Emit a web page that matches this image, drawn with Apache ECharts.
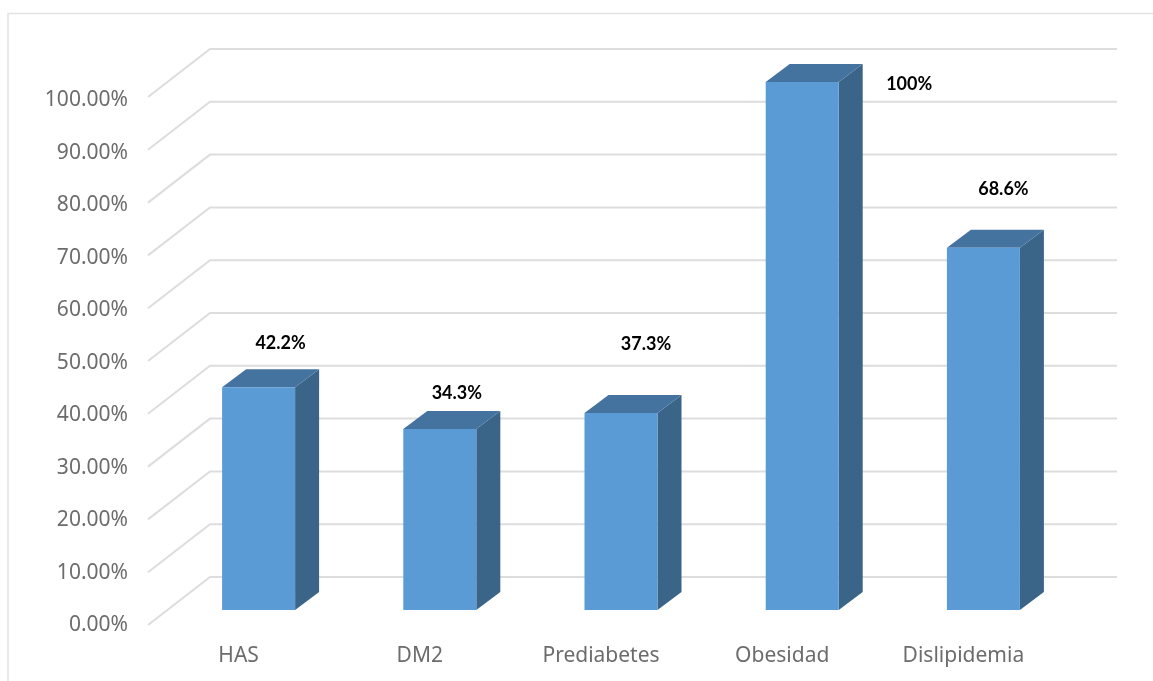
<!DOCTYPE html>
<html>
<head>
<meta charset="utf-8">
<style>html,body{margin:0;padding:0;background:#fff}#chart{width:1153px;height:681px}</style>
<script src="https://cdn.jsdelivr.net/npm/echarts@6/dist/echarts.min.js"></script>
</head>
<body>
<div id="chart"></div>
<script>
// Prevalence of metabolic conditions, drawn as pseudo-3D columns
const categories = ['HAS', 'DM2', 'Prediabetes', 'Obesidad', 'Dislipidemia'];
const prevalence = [42.2, 34.3, 37.3, 100, 68.6];
const valueLabels = ['42.2%', '34.3%', '37.3%', '100%', '68.6%'];
const gridValues = [0, 10, 20, 30, 40, 50, 60, 70, 80, 90, 100];

// Label placement relative to the top-centre of each column's front face
const labelOffsets = [[22, -44], [17, -36], [25, -69], [107, 2], [20, -59]];

// Depth of the floor and the columns, in pixels
const WALL_DX = 62, WALL_DY = 48;
const BAR_WIDTH = 73, BAR_SHIFT_X = 20, BAR_SHIFT_Y = 15, BAR_DX = 24, BAR_DY = 18;
const FRONT = '#5B9BD5', SIDE = '#3A6488', TOP = '#44739F', GRID = '#DDDDDD';

const chart = echarts.init(document.getElementById('chart'), null, {renderer: 'canvas'});

function renderGridLine(params, api) {
  const sys = params.coordSys;
  const y = api.coord([0, api.value(1)])[1];
  return {
    type: 'polyline',
    shape: {points: [[sys.x, y], [sys.x + WALL_DX, y - WALL_DY], [sys.x + WALL_DX + sys.width + 1, y - WALL_DY]]},
    style: {stroke: GRID, lineWidth: 2, fill: null}
  };
}

function renderColumn(params, api) {
  const idx = api.value(0);
  const top = api.coord([idx, api.value(1)]);
  const base = api.coord([idx, 0]);
  const l = top[0] + BAR_SHIFT_X - BAR_WIDTH / 2, r = l + BAR_WIDTH;
  const t = top[1] - BAR_SHIFT_Y, b = base[1] - BAR_SHIFT_Y;
  const offset = labelOffsets[idx];
  return {
    type: 'group',
    children: [
      {type: 'polygon', shape: {points: [[r, t], [r + BAR_DX, t - BAR_DY], [r + BAR_DX, b - BAR_DY], [r, b]]}, style: {fill: SIDE}},
      {type: 'polygon', shape: {points: [[l, t], [l + BAR_DX, t - BAR_DY], [r + BAR_DX, t - BAR_DY], [r, t]]}, style: {fill: TOP}},
      {type: 'rect', shape: {x: l, y: t, width: BAR_WIDTH, height: b - t}, style: {fill: FRONT}},
      {type: 'text', style: {
        x: (l + r) / 2 + offset[0], y: t + offset[1],
        text: valueLabels[idx], align: 'center', verticalAlign: 'middle',
        fill: '#000', font: 'bold 18px Lato, sans-serif'
      }}
    ]
  };
}

chart.setOption({
  animation: false,
  backgroundColor: '#fff',
  graphic: [{
    type: 'polyline',
    silent: true,
    shape: {points: [[8, 681], [8, 13.5], [1153, 13.5]]},
    style: {stroke: '#E2E2E2', lineWidth: 1.5, fill: null}
  }],
  // First grid carries the marks; the second only spaces the percentage labels
  grid: [
    {left: 148, top: 97, width: 906, height: 528},
    {left: 148, top: 100, width: 906, height: 525.5}
  ],
  xAxis: [
    {
      type: 'category',
      data: categories,
      axisLine: {show: false},
      axisTick: {show: false},
      axisLabel: {color: '#6C6C6C', fontFamily: 'Noto Sans', fontSize: 21, margin: 21}
    },
    {type: 'category', gridIndex: 1, data: categories, show: false}
  ],
  yAxis: [
    {type: 'value', min: 0, max: 100, interval: 10, show: false},
    {
      type: 'value',
      gridIndex: 1,
      min: 0,
      max: 100,
      interval: 10,
      splitLine: {show: false},
      axisLine: {show: false},
      axisTick: {show: false},
      axisLabel: {
        color: '#6C6C6C', fontFamily: 'Noto Sans', fontSize: 21, margin: 20,
        formatter: v => v.toFixed(2) + '%'
      }
    }
  ],
  series: [
    {type: 'custom', z: 1, silent: true, renderItem: renderGridLine, data: gridValues.map(v => [0, v])},
    {type: 'custom', z: 2, silent: true, renderItem: renderColumn, data: prevalence.map((v, i) => [i, v])}
  ]
});
</script>
</body>
</html>
